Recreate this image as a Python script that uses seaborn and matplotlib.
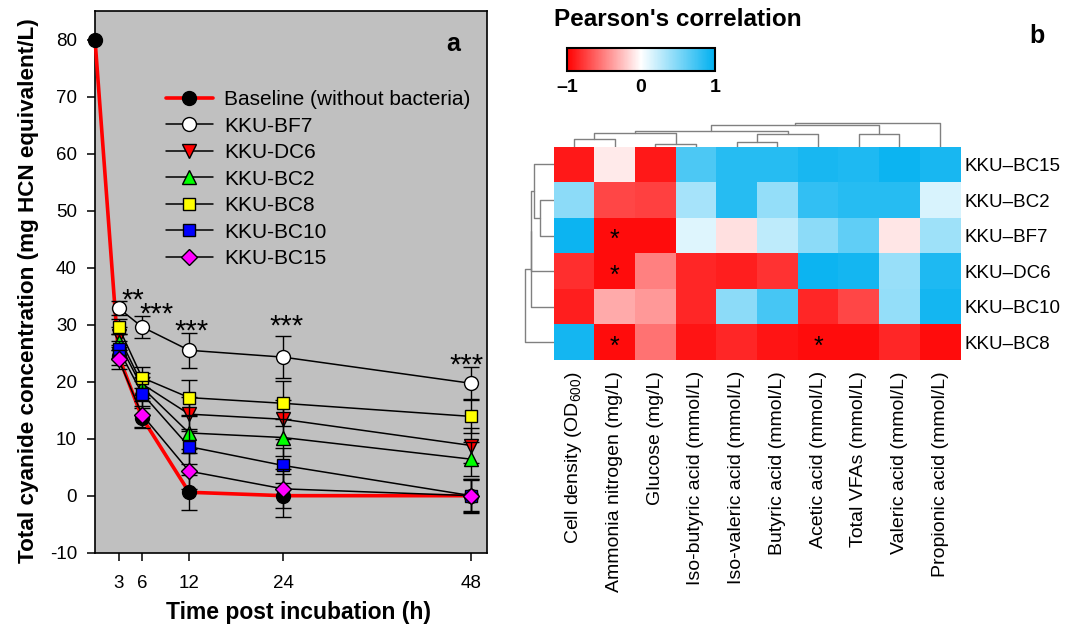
import numpy as np
import pandas as pd
import matplotlib
matplotlib.use("Agg")
import matplotlib.pyplot as plt
from matplotlib.colors import LinearSegmentedColormap
from matplotlib.lines import Line2D
import seaborn as sns

# ---- panel a data (cyanide, mg HCN equivalent/L) ----
base_times = [0, 3, 6, 12, 24, 48]
baseline = [80.0, 24.5, 13.7, 0.6, 0.0, 0.0]
baseline_err = [0.0, 1.5, 1.6, 3.1, 3.8, 2.9]

times = [3, 6, 12, 24, 48]
strains = ["KKU-BF7", "KKU-DC6", "KKU-BC2", "KKU-BC8", "KKU-BC10", "KKU-BC15"]
bf7 = [32.9, 29.6, 25.5, 24.3, 19.7]
dc6 = [28.0, 19.6, 14.3, 13.4, 8.8]
bc2 = [27.0, 19.0, 11.0, 10.2, 6.4]
bc8 = [29.6, 20.7, 17.2, 16.2, 13.9]
bc10 = [25.7, 17.9, 8.6, 5.3, 0.0]
bc15 = [23.9, 14.2, 4.3, 1.2, 0.0]
bf7_err = [1.2, 1.9, 3.1, 3.7, 2.8]
dc6_err = [1.5, 2.0, 3.0, 3.4, 3.1]
bc2_err = [1.4, 1.8, 2.9, 3.3, 3.0]
bc8_err = [1.3, 1.9, 3.0, 3.9, 2.9]
bc10_err = [1.5, 2.2, 3.1, 3.0, 3.0]
bc15_err = [1.6, 2.4, 3.2, 3.4, 2.7]

sig_times = [3, 6, 12, 24, 48]
sig_marks = ["**", "***", "***", "***", "***"]

# ---- panel b data (Pearson's r) ----
row_names = ["KKU\u2013BC15", "KKU\u2013BC2", "KKU\u2013BF7",
             "KKU\u2013DC6", "KKU\u2013BC10", "KKU\u2013BC8"]
col_names = ["Cell density (OD$_{600}$)", "Ammonia nitrogen (mg/L)",
             "Glucose (mg/L)", "Iso-butyric acid (mmol/L)",
             "Iso-valeric acid (mmol/L)", "Butyric acid (mmol/L)",
             "Acetic acid (mmol/L)", "Total VFAs (mmol/L)",
             "Valeric acid (mmol/L)", "Propionic acid (mmol/L)"]
r_bc15 = [-0.90, -0.08, -0.90, 0.70, 0.85, 0.85, 0.90, 0.88, 0.95, 0.90]
r_bc2 = [0.45, -0.72, -0.75, 0.35, 0.85, 0.42, 0.80, 0.85, 0.85, 0.15]
r_bf7 = [0.95, -0.95, -0.95, 0.13, -0.12, 0.25, 0.45, 0.62, -0.10, 0.38]
r_dc6 = [-0.82, -0.95, -0.50, -0.85, -0.88, -0.80, 0.95, 0.92, 0.40, 0.88]
r_bc10 = [-0.88, -0.33, -0.40, -0.85, 0.45, 0.72, -0.85, -0.72, 0.42, 0.92]
r_bc8 = [0.92, -0.95, -0.55, -0.92, -0.85, -0.92, -0.95, -0.95, -0.85, -0.95]
sig_cells = [(2, 1), (3, 1), (5, 1), (5, 6)]

# dendrogram merges: (left id, right id, distance); leaves in display order
col_links = [(0, 1, 7.7), (2, 3, 3.0), (10, 11, 13.3), (4, 5, 5.0), (13, 6, 13.0),
             (12, 14, 16.0), (7, 8, 12.3), (15, 16, 22.0), (17, 9, 24.0)]
row_links = [(1, 2, 13.3), (0, 6, 19.7), (7, 3, 22.3), (8, 4, 23.0), (9, 5, 29.0)]

sns.set_style("ticks")
plt.rcParams["font.family"] = ["Liberation Sans", "DejaVu Sans"]
plt.rcParams["mathtext.fontset"] = "custom"
plt.rcParams["mathtext.rm"] = "Liberation Sans"
plt.rcParams["axes.unicode_minus"] = False
for key in ["text.color", "axes.labelcolor", "xtick.color", "ytick.color"]:
    plt.rcParams[key] = "black"

W, H = 1083, 627
fig = plt.figure(figsize=(W / 100, H / 100), dpi=100)


def px_axes(x0, y0, x1, y1):
    return fig.add_axes([x0 / W, 1 - y1 / H, (x1 - x0) / W, (y1 - y0) / H])


# ================= panel a =================
ax = px_axes(95, 11, 487, 552.7)
ax.set_facecolor("#C0C0C0")

ax.errorbar(base_times[1:], baseline[1:], yerr=baseline_err[1:], fmt="none",
            ecolor="black", elinewidth=1, capsize=6, capthick=1, zorder=2)
ax.plot(base_times, baseline, color="#FF0000", lw=2.6, marker="o", ms=10,
        mfc="black", mec="black", zorder=3, clip_on=False)

series = [bf7, dc6, bc2, bc8, bc10, bc15]
errors = [bf7_err, dc6_err, bc2_err, bc8_err, bc10_err, bc15_err]
markers = ["o", "v", "^", "s", "s", "D"]
faces = ["white", "#FF0000", "#00FF00", "#FFFF00", "#0000FF", "#FF00FF"]
sizes = [10, 10, 10, 9, 9, 8]
for i, (vals, err) in enumerate(zip(series, errors)):
    ax.errorbar(times, vals, yerr=err, fmt="none", ecolor="black",
                elinewidth=1, capsize=6, capthick=1, zorder=4 + 2 * i)
    ax.plot(times, vals, color="black", lw=1.1, marker=markers[i], ms=sizes[i],
            mfc=faces[i], mec="black", mew=1, zorder=5 + 2 * i)

star_offsets = [(1.8, 2.5), (1.9, 3.3), (0.3, 4.5), (0.4, 6.5), (-0.6, 4.4)]
for t, s, (dx, dy), v in zip(sig_times, sig_marks, star_offsets, bf7):
    ax.text(t + dx, v + dy - 2.6, s, ha="center", va="baseline", fontsize=21)

ax.set_xlim(0, 50)
ax.set_ylim(-10, 85)
ax.set_xticks([3, 6, 12, 24, 48])
ax.set_yticks(range(-10, 81, 10))
ax.tick_params(axis="both", direction="out", length=6, width=1.1,
               labelsize=13.5, color="black")
ax.tick_params(axis="x", pad=10)
ax.tick_params(axis="y", pad=7)
for sp in ax.spines.values():
    sp.set_visible(True)
    sp.set_color("black")
    sp.set_linewidth(1.2)
ax.set_xlabel("Time post incubation (h)", fontsize=16.5, fontweight="bold")
ax.set_ylabel("Total cyanide concentration (mg HCN equivalent/L)",
              fontsize=16.2, fontweight="bold")
ax.xaxis.set_label_coords(0.518, -0.09)
ax.yaxis.set_label_coords(-0.142, 0.483)
ax.text(0.915, 0.94, "a", transform=ax.transAxes, fontsize=18,
        fontweight="bold", ha="center", va="center")

handles = [Line2D([], [], color="#FF0000", lw=2.6, marker="o", ms=10,
                  mfc="black", mec="black")]
for m, f, s in zip(markers, faces, sizes):
    handles.append(Line2D([], [], color="black", lw=1.1, marker=m, ms=s,
                          mfc=f, mec="black"))
ax.legend(handles, ["Baseline (without bacteria)"] + strains,
          loc="upper left", bbox_to_anchor=(0.181, 0.854), frameon=False,
          fontsize=15, borderpad=0, borderaxespad=0, handlelength=2.25,
          handletextpad=0.55, labelspacing=0.36)

# ================= panel b =================
cmap = LinearSegmentedColormap.from_list("rwb", ["#FF0000", "#FFFFFF", "#00B0F0"])
corr = pd.DataFrame([r_bc15, r_bc2, r_bf7, r_dc6, r_bc10, r_bc8],
                    index=row_names, columns=col_names)

hax = px_axes(553.5, 146.7, 960.5, 360)
sns.heatmap(corr, ax=hax, cmap=cmap, vmin=-1, vmax=1, cbar=False,
            xticklabels=True, yticklabels=True, linewidths=0)
hax.yaxis.tick_right()
hax.set_yticklabels(row_names, rotation=0, fontsize=13.5)
hax.set_xticklabels(col_names, rotation=90, fontsize=14)
hax.tick_params(axis="both", length=0)
hax.tick_params(axis="x", pad=8)
hax.tick_params(axis="y", pad=3)
hax.set_xlabel("")
hax.set_ylabel("")
for r, c in sig_cells:
    hax.text(c + 0.5, r + 0.62, "*", ha="center", va="center", fontsize=18,
             color="black")


def draw_dendro(dax, links, n, vertical_leaves):
    pos = {i: i + 0.5 for i in range(n)}
    hgt = {i: 0.0 for i in range(n)}
    for k, (a, b, d) in enumerate(links):
        xs = [pos[a], pos[a], pos[b], pos[b]]
        ys = [hgt[a], d, d, hgt[b]]
        if vertical_leaves:
            dax.plot(ys, xs, color="#808080", lw=1)
        else:
            dax.plot(xs, ys, color="#808080", lw=1)
        pos[n + k] = (pos[a] + pos[b]) / 2
        hgt[n + k] = d


cax_d = px_axes(553.5, 120, 960.5, 146.7)
draw_dendro(cax_d, col_links, 10, False)
cax_d.set_xlim(0, 10)
cax_d.set_ylim(0, 26.7)
cax_d.axis("off")

rax_d = px_axes(522, 146.7, 553.5, 360)
draw_dendro(rax_d, row_links, 6, True)
rax_d.set_xlim(31.5, 0)
rax_d.set_ylim(6, 0)
rax_d.axis("off")

cbax = px_axes(567, 48, 715, 71)
cb = fig.colorbar(hax.collections[0], cax=cbax, orientation="horizontal",
                  ticks=[-1, 0, 1])
cb.set_ticklabels(["\u20131", "0", "1"])
cb.outline.set_linewidth(1.5)
cb.outline.set_edgecolor("black")
cbax.tick_params(length=0, pad=6, labelsize=14)
for lab in cbax.get_xticklabels():
    lab.set_fontweight("bold")
fig.text(554 / W, 1 - 19 / H, "Pearson's correlation", fontsize=17.5,
         fontweight="bold", ha="left", va="center")
fig.text(1037 / W, 1 - 36 / H, "b", fontsize=18, fontweight="bold",
         ha="center", va="center")

fig.savefig("out.png", dpi=100)
